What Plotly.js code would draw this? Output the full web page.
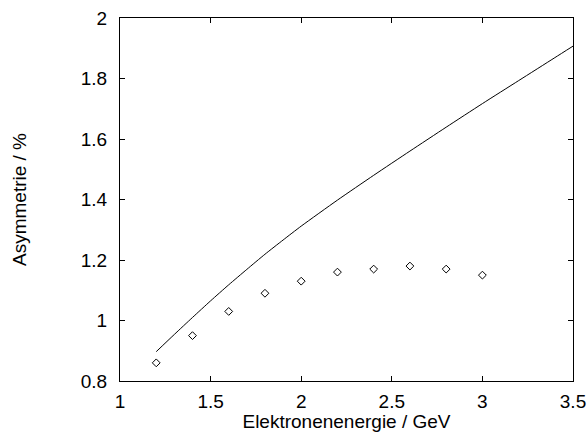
<!DOCTYPE html>
<html>
<head>
<meta charset="utf-8">
<script src="https://cdn.plot.ly/plotly-3.0.1.min.js"></script>
<style>html,body{margin:0;padding:0;background:#fff}#plot{width:587px;height:432px}</style>
</head>
<body>
<div id="plot"></div>
<script>
// theory curve
const curveX = [1.2, 1.3, 1.4, 1.5, 1.6, 1.7, 1.8, 1.9, 2.0, 2.2, 2.4, 2.6, 2.8, 3.0, 3.2, 3.4, 3.5];
const curveY = [0.897, 0.954, 1.010, 1.065, 1.118, 1.169, 1.219, 1.266, 1.312, 1.398, 1.480, 1.560, 1.639, 1.717, 1.793, 1.869, 1.907];
// measured points
const pointX = [1.2, 1.4, 1.6, 1.8, 2.0, 2.2, 2.4, 2.6, 2.8, 3.0];
const pointY = [0.86, 0.95, 1.03, 1.09, 1.13, 1.16, 1.17, 1.18, 1.17, 1.15];
const xTicks = [1, 1.5, 2, 2.5, 3, 3.5];
const xTickText = ['1', '1.5', '2', '2.5', '3', '3.5'];
const yTicks = [0.8, 1, 1.2, 1.4, 1.6, 1.8, 2];
const yTickText = ['0.8', '1', '1.2', '1.4', '1.6', '1.8', '2'];

const font = {family: 'Liberation Sans, Arial, sans-serif', size: 19, color: '#000'};
const traces = [
  {x: curveX, y: curveY, mode: 'lines', line: {color: '#000', width: 1, shape: 'spline', smoothing: 0.6}, hoverinfo: 'skip'},
  {x: pointX, y: pointY, mode: 'markers', marker: {symbol: 'diamond-open', size: 6, color: '#000', line: {width: 1, color: '#000'}}}
];
const axisCommon = {
  showgrid: false, zeroline: false, showline: true, linecolor: '#000', linewidth: 1,
  mirror: 'ticks', ticks: 'inside', ticklen: 5, tickwidth: 1, tickcolor: '#000',
  tickfont: font
};
const layout = {
  width: 587, height: 432,
  margin: {l: 120, r: 14, t: 18, b: 51},
  paper_bgcolor: '#fff', plot_bgcolor: '#fff',
  showlegend: false,
  font: font,
  xaxis: Object.assign({}, axisCommon, {
    range: [1, 3.5], tickmode: 'array', tickvals: xTicks, ticktext: xTickText,
    ticklabelstandoff: 3,
    title: {text: 'Elektronenenergie / GeV', font: font, standoff: 2}
  }),
  yaxis: Object.assign({}, axisCommon, {
    range: [0.8, 2], tickmode: 'array', tickvals: yTicks, ticktext: yTickText,
    ticklabelstandoff: 8,
    title: {text: 'Asymmetrie / %', font: font, standoff: 49}
  })
};
Plotly.newPlot('plot', traces, layout, {displayModeBar: false, staticPlot: true});
</script>
</body>
</html>
